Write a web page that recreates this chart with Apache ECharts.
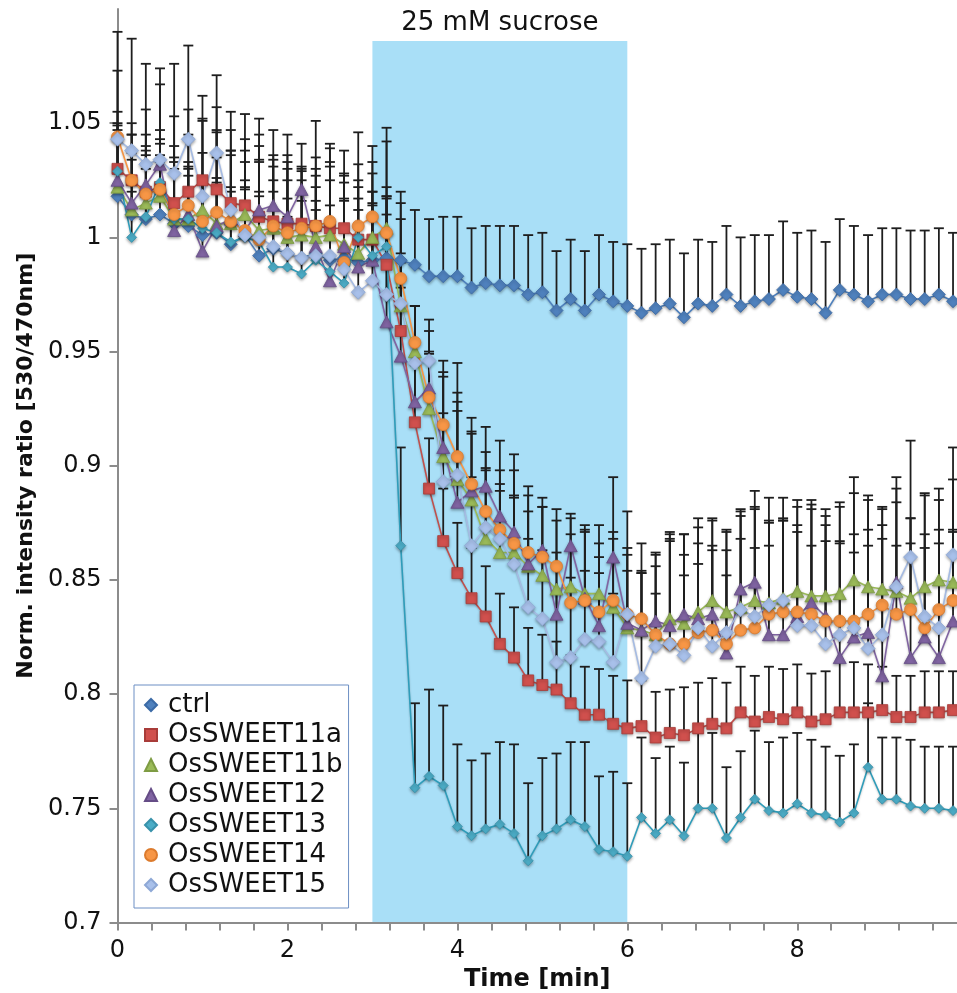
<!DOCTYPE html>
<html><head><meta charset="utf-8">
<script src="https://cdn.jsdelivr.net/npm/echarts@6/dist/echarts.min.js"></script>
<style>html,body{margin:0;padding:0;background:#fff}#c{width:957px;height:993px}</style>
</head><body><div id="c"></div><script>
// time points (seconds)
const timeSec = [0,10,20,30,40,50,60,70,80,90,100,110,120,130,140,150,160,170,180,190,
200,210,220,230,240,250,260,270,280,290,300,310,320,330,340,350,360,370,380,390,
400,410,420,430,440,450,460,470,480,490,500,510,520,530,540,550,560,570,580,590];

const seriesNames = ['ctrl','OsSWEET11a','OsSWEET11b','OsSWEET12','OsSWEET13','OsSWEET14','OsSWEET15'];

const ctrl = [1.018,1.010,1.008,1.010,1.006,1.005,1.001,1.002,0.997,1.001,
0.992,0.995,0.993,0.991,0.993,0.990,0.991,0.989,0.990,0.991,
0.990,0.988,0.983,0.983,0.983,0.978,0.980,0.979,0.979,0.975,
0.976,0.968,0.973,0.968,0.975,0.972,0.970,0.967,0.969,0.971,
0.965,0.971,0.970,0.975,0.970,0.972,0.973,0.977,0.974,0.973,
0.967,0.977,0.975,0.972,0.975,0.975,0.973,0.973,0.975,0.972];
const ctrlErr = [0.025,0.024,0.022,0.023,0.024,0.022,0.023,0.024,0.025,0.024,
0.026,0.025,0.024,0.025,0.023,0.024,0.026,0.023,0.025,0.026,
0.025,0.024,0.025,0.026,0.026,0.026,0.025,0.026,0.026,0.026,
0.026,0.026,0.026,0.026,0.026,0.026,0.027,0.028,0.028,0.028,
0.028,0.028,0.028,0.030,0.030,0.029,0.028,0.030,0.028,0.030,
0.031,0.031,0.030,0.029,0.029,0.029,0.030,0.030,0.029,0.030];

const sweet11a = [1.030,1.025,1.020,1.022,1.015,1.020,1.025,1.021,1.015,1.014,
1.009,1.007,1.006,1.006,1.005,1.004,1.004,0.999,0.999,0.988,
0.959,0.919,0.890,0.867,0.853,0.842,0.834,0.822,0.816,0.806,
0.804,0.802,0.796,0.791,0.791,0.787,0.785,0.786,0.781,0.783,
0.782,0.785,0.787,0.785,0.792,0.788,0.790,0.789,0.792,0.788,
0.789,0.792,0.792,0.792,0.793,0.790,0.790,0.792,0.792,0.793];
const sweet11aErr = [0.025,0.025,0.025,0.025,0.025,0.025,0.037,0.036,0.040,0.040,
0.036,0.029,0.030,0.024,0.030,0.035,0.034,0.033,0.029,0.030,
0.030,0.025,0.022,0.023,0.022,0.022,0.022,0.022,0.022,0.023,
0.022,0.021,0.021,0.021,0.020,0.021,0.021,0.020,0.020,0.019,
0.021,0.020,0.020,0.020,0.020,0.020,0.022,0.022,0.021,0.021,
0.021,0.022,0.022,0.021,0.019,0.018,0.018,0.018,0.018,0.017];

const sweet11b = [1.022,1.012,1.015,1.018,1.008,1.008,1.012,1.006,1.006,1.010,
1.003,1.004,1.000,1.001,1.000,1.001,0.997,0.993,1.000,1.004,
0.970,0.950,0.925,0.904,0.894,0.885,0.868,0.862,0.862,0.856,
0.852,0.846,0.847,0.844,0.844,0.838,0.829,0.828,0.826,0.833,
0.831,0.836,0.841,0.836,0.838,0.841,0.840,0.842,0.845,0.843,
0.843,0.844,0.850,0.847,0.846,0.845,0.842,0.847,0.850,0.849];
const sweet11bErr = [0.025,0.025,0.025,0.025,0.025,0.025,0.039,0.040,0.030,0.033,
0.030,0.030,0.030,0.030,0.030,0.032,0.030,0.032,0.033,0.044,
0.023,0.020,0.025,0.035,0.034,0.029,0.030,0.030,0.024,0.031,
0.030,0.030,0.030,0.030,0.030,0.030,0.025,0.025,0.030,0.035,
0.030,0.030,0.035,0.035,0.040,0.040,0.035,0.035,0.040,0.040,
0.035,0.040,0.045,0.040,0.035,0.045,0.035,0.040,0.040,0.045];

const sweet12 = [1.025,1.015,1.023,1.032,1.003,1.010,0.994,1.005,1.008,1.003,
1.012,1.014,1.009,1.021,0.996,0.981,0.996,0.987,0.990,0.963,
0.948,0.928,0.934,0.908,0.884,0.889,0.891,0.878,0.871,0.857,
0.863,0.835,0.865,0.842,0.830,0.860,0.831,0.828,0.832,0.830,
0.835,0.833,0.835,0.818,0.846,0.849,0.826,0.826,0.834,0.840,
0.834,0.816,0.825,0.827,0.808,0.849,0.816,0.825,0.816,0.832];
const sweet12Err = [0.025,0.030,0.033,0.035,0.050,0.021,0.030,0.030,0.030,0.030,
0.040,0.033,0.036,0.020,0.055,0.044,0.032,0.030,0.030,0.055,
0.030,0.025,0.025,0.033,0.040,0.026,0.026,0.033,0.034,0.023,
0.023,0.027,0.014,0.030,0.030,0.035,0.030,0.025,0.030,0.040,
0.035,0.040,0.030,0.045,0.035,0.040,0.050,0.050,0.040,0.045,
0.040,0.050,0.045,0.045,0.060,0.035,0.050,0.045,0.050,0.040];

const sweet13 = [1.029,1.000,1.009,1.024,1.008,1.008,1.004,1.002,0.998,1.000,
0.998,0.987,0.987,0.984,0.990,0.985,0.980,1.000,0.992,0.996,
0.865,0.759,0.764,0.760,0.742,0.738,0.741,0.743,0.739,0.727,
0.738,0.741,0.745,0.742,0.732,0.731,0.729,0.746,0.739,0.745,
0.738,0.750,0.750,0.737,0.746,0.754,0.749,0.748,0.752,0.748,
0.747,0.744,0.748,0.768,0.754,0.754,0.751,0.750,0.750,0.749];
const sweet13Err = [0.020,0.020,0.027,0.012,0.020,0.022,0.022,0.022,0.022,0.022,
0.022,0.022,0.022,0.022,0.022,0.022,0.022,0.022,0.022,0.026,
0.043,0.037,0.038,0.035,0.036,0.033,0.033,0.036,0.039,0.034,
0.034,0.033,0.034,0.037,0.032,0.035,0.032,0.035,0.033,0.032,
0.032,0.033,0.033,0.031,0.029,0.030,0.030,0.033,0.031,0.032,
0.030,0.029,0.030,0.028,0.027,0.027,0.029,0.027,0.027,0.028];

const sweet14 = [1.044,1.025,1.019,1.021,1.010,1.014,1.007,1.011,1.007,1.003,
0.999,1.005,1.002,1.004,1.005,1.007,0.989,1.005,1.009,1.002,
0.982,0.954,0.930,0.918,0.904,0.892,0.880,0.872,0.866,0.862,
0.860,0.856,0.840,0.841,0.836,0.841,0.835,0.833,0.826,0.822,
0.822,0.827,0.828,0.822,0.828,0.829,0.835,0.836,0.836,0.835,
0.832,0.832,0.832,0.835,0.839,0.835,0.837,0.829,0.837,0.841];
const sweet14Err = [0.029,0.020,0.019,0.020,0.025,0.042,0.030,0.036,0.031,0.018,
0.035,0.026,0.031,0.025,0.022,0.034,0.035,0.041,0.031,0.040,
0.038,0.016,0.019,0.028,0.041,0.029,0.026,0.026,0.032,0.029,
0.022,0.025,0.030,0.030,0.030,0.030,0.029,0.021,0.018,0.045,
0.030,0.030,0.035,0.030,0.040,0.035,0.030,0.040,0.035,0.030,
0.035,0.035,0.030,0.030,0.035,0.030,0.040,0.035,0.035,0.030];

const sweet15 = [1.043,1.038,1.032,1.034,1.028,1.043,1.018,1.037,1.012,1.001,
1.000,0.996,0.993,0.991,0.992,0.992,0.986,0.976,0.981,0.975,
0.971,0.945,0.946,0.893,0.896,0.865,0.873,0.868,0.857,0.838,
0.833,0.814,0.816,0.824,0.823,0.814,0.835,0.807,0.821,0.822,
0.817,0.829,0.821,0.827,0.837,0.834,0.839,0.841,0.830,0.830,
0.822,0.826,0.829,0.820,0.826,0.847,0.860,0.834,0.829,0.861];
const sweet15Err = [0.047,0.049,0.044,0.040,0.048,0.041,0.034,0.034,0.035,0.037,
0.040,0.029,0.032,0.034,0.030,0.039,0.030,0.030,0.039,0.035,
0.037,0.025,0.018,0.030,0.036,0.030,0.026,0.021,0.030,0.030,
0.030,0.030,0.035,0.030,0.030,0.030,0.045,0.059,0.040,0.049,
0.053,0.048,0.056,0.045,0.043,0.048,0.047,0.045,0.052,0.051,
0.059,0.056,0.059,0.065,0.056,0.048,0.051,0.054,0.056,0.047];

const sucroseStart = 3, sucroseEnd = 6, sucroseTop = 1.086;
const sucroseLabel = '25 mM sucrose';

const values = [ctrl, sweet11a, sweet11b, sweet12, sweet13, sweet14, sweet15];
const errors = [ctrlErr, sweet11aErr, sweet11bErr, sweet12Err, sweet13Err, sweet14Err, sweet15Err];

const styles = [
  {symbol:'diamond', size:[13,13], color:'#4f81bd', border:'#3b6aa6', line:'#4f81bd'},
  {symbol:'rect', size:[11,11], color:'#d0504d', border:'#a83c39', line:'#c0504d'},
  {symbol:'triangle', size:[13,12], color:'#9bbb59', border:'#7e9c43', line:'#9bbb59'},
  {symbol:'triangle', size:[13,12], color:'#8064a2', border:'#654c86', line:'#8064a2'},
  {symbol:'diamond', size:[10,10], color:'#4bacc6', border:'#3892ab', line:'#2f9dba'},
  {symbol:'circle', size:[12,12], color:'#f79646', border:'#dc7b2d', line:'#f79646'},
  {symbol:'diamond', size:[14,14], color:'#a8c0ea', border:'#8ea8d6', line:'#a5bbe3'}
];

const timeMin = timeSec.map(s => s / 60);

function errRender(params, api) {
  const x = api.value(0), y = api.value(1), top = api.value(2);
  const p0 = api.coord([x, y]);
  const p1 = api.coord([x, top]);
  const hw = 5;
  const st = {stroke:'#1e1e1e', lineWidth:1.8};
  return {type:'group', children:[
    {type:'line', shape:{x1:p0[0], y1:p0[1], x2:p1[0], y2:p1[1]}, style:st},
    {type:'line', shape:{x1:p1[0]-hw, y1:p1[1], x2:p1[0]+hw, y2:p1[1]}, style:st}
  ]};
}

const series = [];
series.push({
  type:'custom', z:0, silent:true, clip:false,
  data:[[sucroseStart, sucroseEnd, 0.7, sucroseTop]],
  encode:{x:[0,1], y:[2,3]},
  renderItem:(params, api) => {
    const p0 = api.coord([api.value(0), api.value(3)]);
    const p1 = api.coord([api.value(1), api.value(2)]);
    return {type:'group', children:[
      {type:'rect', shape:{x:p0[0], y:p0[1], width:p1[0]-p0[0], height:p1[1]-p0[1]}, style:{fill:'#a9dff7'}},
      {type:'text', style:{text:sucroseLabel, x:(p0[0]+p1[0])/2, y:p0[1]-5, align:'center', verticalAlign:'bottom', fontSize:26, fontFamily:'DejaVu Sans', fill:'#111'}}
    ]};
  }
});
values.forEach((vals, k) => {
  series.push({
    type:'custom', z:1, silent:true,
    data: timeMin.map((t,i) => [t, vals[i], vals[i] + errors[k][i]]),
    encode:{x:0, y:[1,2]},
    renderItem: errRender
  });
});
values.forEach((vals, k) => {
  const s = styles[k];
  series.push({
    type:'line', name: seriesNames[k], z:2,
    data: timeMin.map((t,i) => [t, vals[i]]),
    symbol: s.symbol, symbolSize: s.size, showSymbol:true, showAllSymbol:true,
    lineStyle:{color:s.line, width:1.6, shadowColor:'rgba(0,0,0,0.25)', shadowBlur:2, shadowOffsetY:1},
    itemStyle:{color:s.color, borderColor:s.border, borderWidth:0.8, shadowColor:'rgba(0,0,0,0.35)', shadowBlur:3, shadowOffsetY:1.5},
    emphasis:{disabled:true}
  });
});

const chart = echarts.init(document.getElementById('c'), null, {renderer:'canvas'});
chart.setOption({
  animation:false,
  backgroundColor:'#fff',
  grid:{left:117.5, right:0, top:9, bottom:70.5, containLabel:false, outerBoundsMode:'none'},
  xAxis:{
    type:'value', min:0, max:9.88, interval:0.4,
    axisLine:{show:true, lineStyle:{color:'#8c8c8c', width:2}},
    axisTick:{show:true, length:8, lineStyle:{color:'#8c8c8c', width:2}},
    axisLabel:{margin:16, fontSize:24, color:'#111', fontFamily:'DejaVu Sans', showMaxLabel:false,
      formatter:v => { const r = Math.round(v); return (Math.abs(v - r) < 1e-6 && r % 2 === 0) ? String(r) : ''; }},
    splitLine:{show:false},
    name:'Time [min]', nameLocation:'middle', nameGap:34,
    nameTextStyle:{fontFamily:'DejaVu Sans', fontWeight:'bold', fontSize:24, color:'#111'}
  },
  yAxis:{
    type:'value', min:0.7, max:1.1, interval:0.05,
    axisLine:{show:true, lineStyle:{color:'#8c8c8c', width:2}},
    axisTick:{show:true, length:8, lineStyle:{color:'#8c8c8c', width:2}},
    axisLabel:{margin:16, fontSize:24, color:'#111', fontFamily:'DejaVu Sans', showMaxLabel:false},
    splitLine:{show:false},
    name:'Norm. intensity ratio [530/470nm]', nameLocation:'middle', nameGap:78, nameRotate:90,
    nameTextStyle:{fontFamily:'DejaVu Sans', fontWeight:'bold', fontSize:22, color:'#111'}
  },
  legend:{
    orient:'vertical', left:134, top:685, padding:[5,6,8,10], itemGap:0, itemWidth:12, itemHeight:12,
    backgroundColor:'#fff', borderColor:'#6d8fc4', borderWidth:1, selectedMode:false,
    textStyle:{fontFamily:'DejaVu Sans', fontSize:26, color:'#111', lineHeight:30, padding:[0,0,0,6]},
    data: seriesNames.map((n,i) => ({name:n, icon: styles[i].symbol}))
  },
  series: series
});
</script></body></html>
